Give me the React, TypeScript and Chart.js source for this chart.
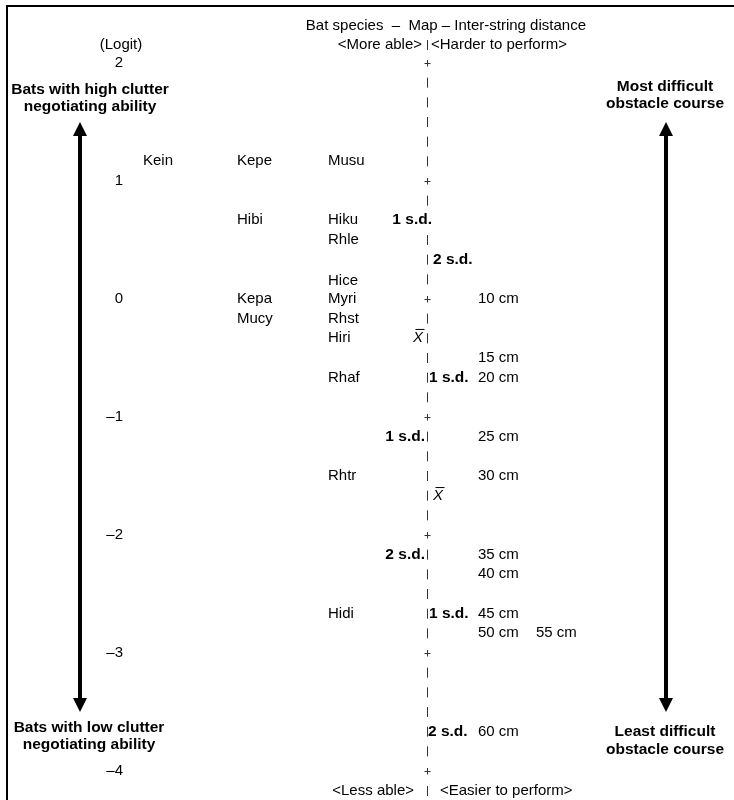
import React, { useEffect, useRef } from 'react';
import { Chart, registerables } from 'chart.js';

Chart.register(...registerables);

// ---------------- data ----------------
const logitTicks = [2, 1, 0, -1, -2, -3, -4];

const speciesNames = ['Kein', 'Kepe', 'Musu', 'Hibi', 'Hiku', 'Rhle', 'Hice', 'Kepa', 'Myri', 'Mucy', 'Rhst', 'Hiri', 'Rhaf', 'Rhtr', 'Hidi'];
const speciesLogits = [1.17, 1.17, 1.17, 0.67, 0.67, 0.5, 0.15, 0, 0, -0.17, -0.17, -0.33, -0.67, -1.5, -2.67];
const speciesColumns = [0, 1, 2, 1, 2, 2, 2, 1, 2, 1, 2, 2, 2, 2, 2];

const itemNames = ['10 cm', '15 cm', '20 cm', '25 cm', '30 cm', '35 cm', '40 cm', '45 cm', '50 cm', '55 cm', '60 cm'];
const itemLogits = [0, -0.5, -0.67, -1.17, -1.5, -2.17, -2.33, -2.67, -2.83, -2.83, -3.67];
const itemColumns = [0, 0, 0, 0, 0, 0, 0, 0, 0, 1, 0];

const personStatLabels = ['1 s.d.', 'MEAN', '1 s.d.', '2 s.d.'];
const personStatLogits = [0.67, -0.33, -1.17, -2.17];

const itemStatLabels = ['2 s.d.', '1 s.d.', 'MEAN', '1 s.d.', '2 s.d.'];
const itemStatLogits = [0.33, -0.67, -1.67, -2.67, -3.67];

const titleParts = ['Bat species  \u2013  ', 'Map', ' \u2013 Inter-string distance'];
const topHeader = ['<More able>', '<Harder to perform>'];
const bottomHeader = ['<Less able>', '<Easier to perform>'];
const leftTop = ['Bats with high clutter', 'negotiating ability'];
const leftBottom = ['Bats with low clutter', 'negotiating ability'];
const rightTop = ['Most difficult', 'obstacle course'];
const rightBottom = ['Least difficult', 'obstacle course'];
const axisTitle = '(Logit)';

// ---------------- layout ----------------
const W = 734;
const H = 800;
const PX_PER_LOGIT = 118;
const TOP_LOGIT_PX = 63;
const Y_MAX = 2 + TOP_LOGIT_PX / PX_PER_LOGIT;
const Y_MIN = Y_MAX - H / PX_PER_LOGIT;
const AXIS_X = 427;
const SPECIES_COL_X = [143, 237, 328];
const ITEM_COL_X = [478, 536];
const PERSON_STAT_DX = [5, -4, -2, -2];
const ITEM_STAT_DX = [6, 2, 6, 2, 1];
const FONT = '"Liberation Sans", Arial, Helvetica, sans-serif';

function drawMean(ctx: CanvasRenderingContext2D, x: number, y: number, align: 'left' | 'right') {
  ctx.save();
  ctx.font = `italic 15px ${FONT}`;
  const w = ctx.measureText('X').width;
  const left = align === 'left' ? x : x - w;
  ctx.textAlign = 'left';
  ctx.textBaseline = 'middle';
  ctx.fillText('X', left, y);
  ctx.beginPath();
  ctx.lineWidth = 1;
  ctx.moveTo(left + 2.5, y - 8.5);
  ctx.lineTo(left + w + 1.5, y - 8.5);
  ctx.stroke();
  ctx.restore();
}

function drawArrow(ctx: CanvasRenderingContext2D, x: number, y1: number, y2: number) {
  const hw = 7;
  const hh = 14;
  ctx.save();
  ctx.fillStyle = '#000';
  ctx.fillRect(x - 2, y1 + hh - 1, 4, y2 - y1 - 2 * hh + 2);
  ctx.beginPath();
  ctx.moveTo(x, y1);
  ctx.lineTo(x + hw, y1 + hh);
  ctx.lineTo(x - hw, y1 + hh);
  ctx.closePath();
  ctx.fill();
  ctx.beginPath();
  ctx.moveTo(x, y2);
  ctx.lineTo(x + hw, y2 - hh);
  ctx.lineTo(x - hw, y2 - hh);
  ctx.closePath();
  ctx.fill();
  ctx.restore();
}

const mapPlugin = {
  id: 'wrightMap',
  afterDatasetsDraw(chart: any) {
    const ctx: CanvasRenderingContext2D = chart.ctx;
    const ys = chart.scales.y;
    const xs = chart.scales.x;
    const yOf = (v: number) => ys.getPixelForValue(v);
    const ax = xs.getPixelForValue(AXIS_X);
    const yTop = yOf(2);
    const yBot = yOf(-4);

    ctx.save();
    ctx.fillStyle = '#000';
    ctx.strokeStyle = '#000';

    // frame
    ctx.lineWidth = 2;
    ctx.beginPath();
    ctx.moveTo(7, H);
    ctx.lineTo(7, 6);
    ctx.lineTo(W, 6);
    ctx.stroke();

    // axis marks
    const pipe = (y: number) => {
      ctx.save();
      ctx.strokeStyle = '#333';
      ctx.lineWidth = 1;
      ctx.beginPath();
      ctx.moveTo(ax + 0.5, y - 5);
      ctx.lineTo(ax + 0.5, y + 5);
      ctx.stroke();
      ctx.restore();
    };
    const plus = (y: number) => {
      ctx.save();
      ctx.strokeStyle = '#333';
      ctx.lineWidth = 1;
      ctx.beginPath();
      ctx.moveTo(ax - 2.5, Math.round(y) + 0.5);
      ctx.lineTo(ax + 3.5, Math.round(y) + 0.5);
      ctx.moveTo(ax + 0.5, y - 3);
      ctx.lineTo(ax + 0.5, y + 3.5);
      ctx.stroke();
      ctx.restore();
    };
    const steps = Math.round((logitTicks[0] - logitTicks[logitTicks.length - 1]) * 6);
    for (let r = 0; r <= steps; r++) {
      const v = logitTicks[0] - r / 6;
      if (r % 6 === 0) plus(yOf(v));
      else pipe(yOf(v));
    }

    ctx.textBaseline = 'middle';

    // title
    ctx.font = `15px ${FONT}`;
    const titleY = yTop - 37;
    const mapW = ctx.measureText(titleParts[1]).width;
    ctx.textAlign = 'right';
    ctx.fillText(titleParts[0], ax - 4 - mapW / 2, titleY);
    ctx.textAlign = 'center';
    ctx.fillText(titleParts[1], ax - 4, titleY);
    ctx.textAlign = 'left';
    ctx.fillText(titleParts[2], ax - 4 + mapW / 2, titleY);

    // headers
    const headY = yTop - 18;
    ctx.textAlign = 'right';
    ctx.fillText(topHeader[0], ax - 5, headY);
    ctx.textAlign = 'left';
    ctx.fillText(topHeader[1], ax + 4, headY);
    pipe(headY);
    const footY = yBot + 20;
    ctx.textAlign = 'right';
    ctx.fillText(bottomHeader[0], ax - 13, footY);
    ctx.textAlign = 'left';
    ctx.fillText(bottomHeader[1], ax + 13, footY);
    pipe(footY);

    // logit axis labels
    ctx.textAlign = 'center';
    ctx.fillText(axisTitle, 121, headY);
    ctx.textAlign = 'right';
    logitTicks.forEach((t) => {
      const s = t < 0 ? '\u2013' + Math.abs(t) : String(t);
      ctx.fillText(s, 123, yOf(t));
    });

    // species & items (positions from the datasets via scales)
    ctx.textAlign = 'left';
    ctx.font = `15px ${FONT}`;
    const sMeta = chart.getDatasetMeta(0);
    sMeta.data.forEach((pt: any, i: number) => {
      ctx.fillText(speciesNames[i], pt.x, pt.y);
    });
    const iMeta = chart.getDatasetMeta(1);
    iMeta.data.forEach((pt: any, i: number) => {
      ctx.fillText(itemNames[i], pt.x, pt.y);
    });

    // stats
    ctx.font = `bold 15.5px ${FONT}`;
    const pMeta = chart.getDatasetMeta(2);
    pMeta.data.forEach((pt: any, i: number) => {
      const lab = personStatLabels[i];
      const x = pt.x + PERSON_STAT_DX[i];
      if (lab === 'MEAN') {
        drawMean(ctx, x, pt.y, 'right');
        return;
      }
      const w = ctx.measureText(lab).width;
      ctx.save();
      ctx.fillStyle = '#fff';
      ctx.fillRect(x - w, pt.y - 7, w, 14);
      ctx.restore();
      ctx.textAlign = 'right';
      ctx.fillText(lab, x, pt.y);
    });
    const qMeta = chart.getDatasetMeta(3);
    qMeta.data.forEach((pt: any, i: number) => {
      const lab = itemStatLabels[i];
      const x = pt.x + ITEM_STAT_DX[i];
      if (lab === 'MEAN') {
        drawMean(ctx, x, pt.y, 'left');
        return;
      }
      const w = ctx.measureText(lab).width;
      ctx.save();
      ctx.fillStyle = '#fff';
      ctx.fillRect(x, pt.y - 7, w, 14);
      ctx.restore();
      ctx.textAlign = 'left';
      ctx.fillText(lab, x, pt.y);
    });

    // side labels
    ctx.font = `bold 15.5px ${FONT}`;
    ctx.textAlign = 'center';
    ctx.fillText(leftTop[0], 90, yTop + 27);
    ctx.fillText(leftTop[1], 90, yTop + 44);
    ctx.fillText(leftBottom[0], 89, yBot - 43);
    ctx.fillText(leftBottom[1], 89, yBot - 26);
    ctx.fillText(rightTop[0], 665, yTop + 24);
    ctx.fillText(rightTop[1], 665, yTop + 41);
    ctx.fillText(rightBottom[0], 665, yBot - 39);
    ctx.fillText(rightBottom[1], 665, yBot - 21);

    // arrows
    drawArrow(ctx, 80, yOf(1.5), yOf(-3.5));
    drawArrow(ctx, 666, yOf(1.5), yOf(-3.5));

    ctx.restore();
  },
};

export default function App() {
  const ref = useRef<HTMLCanvasElement | null>(null);
  useEffect(() => {
    if (!ref.current) return;
    const chart = new Chart(ref.current, {
      type: 'scatter',
      data: {
        datasets: [
          { label: 'species', data: speciesLogits.map((v, i) => ({ x: SPECIES_COL_X[speciesColumns[i]], y: v })), pointRadius: 0 },
          { label: 'items', data: itemLogits.map((v, i) => ({ x: ITEM_COL_X[itemColumns[i]], y: v })), pointRadius: 0 },
          { label: 'personStats', data: personStatLogits.map((v) => ({ x: AXIS_X, y: v })), pointRadius: 0 },
          { label: 'itemStats', data: itemStatLogits.map((v) => ({ x: AXIS_X, y: v })), pointRadius: 0 },
        ],
      },
      options: {
        animation: false,
        responsive: false,
        layout: { padding: 0 },
        scales: {
          x: { type: 'linear', display: false, min: 0, max: W },
          y: { type: 'linear', display: false, min: Y_MIN, max: Y_MAX },
        },
        plugins: { legend: { display: false }, tooltip: { enabled: false } },
        events: [],
      },
      plugins: [mapPlugin],
    });
    return () => chart.destroy();
  }, []);
  return (
    <div style={{ position: 'absolute', left: 0, top: 0, width: W, height: H, background: '#fff' }}>
      <canvas ref={ref} width={W} height={H} style={{ display: 'block' }} />
    </div>
  );
}
